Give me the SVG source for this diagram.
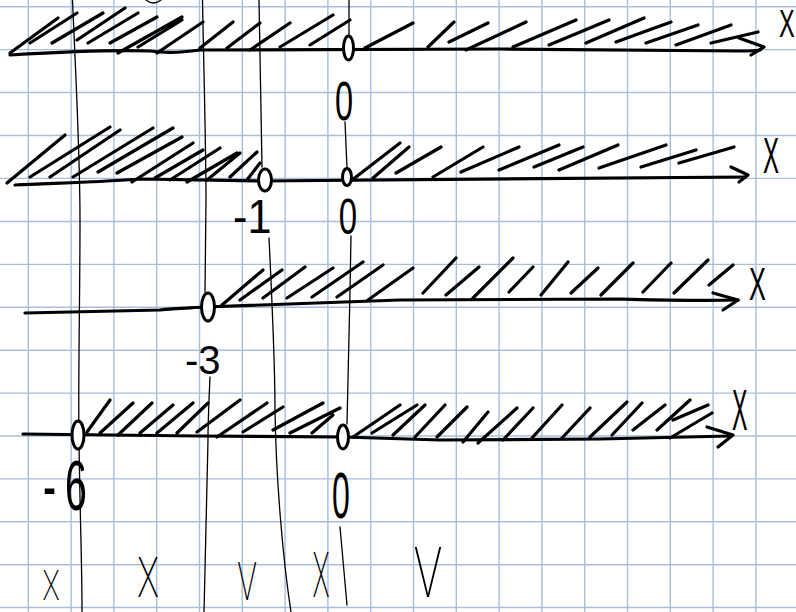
<svg xmlns="http://www.w3.org/2000/svg" width="796" height="612" viewBox="0 0 796 612">
<style>
.grid{stroke:#a9bddd;stroke-width:1.4;fill:none}
.ink{stroke:#000;stroke-width:3.2;fill:none;stroke-linecap:round;stroke-linejoin:round}
.thin{stroke:#000;stroke-width:1.3;fill:none;stroke-linecap:round}
.pt{stroke:#000;stroke-width:3;fill:#fff}
.lbl{font-family:"Liberation Sans",Arial,sans-serif;fill:#000}
.lt{font-family:Roboto,"DejaVu Sans",sans-serif;font-weight:200;fill:#000}
</style>
<rect width="796" height="612" fill="#fff"/>
<g id="grid" class="grid">
<path d="M28.3 0V612M71.1 0V612M113.9 0V612M156.7 0V612M199.5 0V612M242.3 0V612M285.1 0V612M327.9 0V612M370.7 0V612M413.5 0V612M456.3 0V612M499.1 0V612M541.9 0V612M584.7 0V612M627.5 0V612M670.3 0V612M713.1 0V612M755.9 0V612"/>
<path d="M0 6.7H796M0 49.6H796M0 92.5H796M0 135.5H796M0 178.4H796M0 221.5H796M0 264.4H796M0 307.3H796M0 350.2H796M0 393.1H796M0 436H796M0 478.9H796M0 521.8H796M0 564.7H796M0 607.5H796"/>
</g>
<g id="dividers" class="thin">
<path d="M72.5 0C75 60 80 150 80 220C80 300 78 380 79 440C80 520 82 560 82 612"/>
<path d="M202.5 0C204 80 206 150 206 200L205 292"/>
<path d="M210 377C209 400 208 420 208 440C207 500 205 560 204 612"/>
<path d="M259 0C260 60 261 120 262 167"/>
<path d="M269 238C272 300 275 360 275 410C276 480 283 560 291 612"/>
<path d="M349 0L349 36"/>
<path d="M345 122L347 168"/>
<path d="M351 236C350 300 348 380 347 424"/>
<path d="M340 527L347 605"/>
<path d="M146 0Q153.5 6 161 0"/>
</g>
<g id="line1" class="ink">
<path d="M10 55C60 52 120 50 150 51C165 53 175 53 200 50L500 49L740 51Q756 51 760 50"/>
<path d="M739 38L764 47L751 55"/>
<path d="M10 53L58 18M30 43L77 13M52 43L103 13M77 40L125 8M88 43L138 13M110 43L157 17M118 53L182 17M138 47L182 20M157 53L203 22M200 48L233 22M227 48L260 23M250 50L290 23M280 47L333 15M310 45L350 20M365 48L413 23M428 47L454 22M449 42L488 23M466 50L526 22M513 47L576 20M549 45L609 20M586 43L644 18M616 42L671 22M646 43L698 25M676 45L731 25M711 43L758 32"/>
<ellipse class="pt" cx="348.5" cy="48" rx="5" ry="12"/>
</g>
<g id="line2" class="ink">
<path d="M15 185C60 183 120 181 140 179L260 181L745 177"/>
<path d="M731 167L748 175L739 182"/>
<path d="M7 183L65 135M30 177L110 127M50 177L120 130M73 177L153 128M98 172L173 128M117 173L182 137M132 182L193 143M155 178L203 150M170 180L220 148M187 182L237 153M207 180L240 153M230 177L257 152M247 180L260 163"/>
<path d="M352 180L400 143M373 178L409 147M396 173L441 147M433 177L483 147M461 172L519 147M499 170L559 145M534 167L583 147M559 170L618 145M599 168L666 145M641 167L696 150M679 163L734 147"/>
<ellipse class="pt" cx="265" cy="180" rx="6.5" ry="11"/>
<ellipse class="pt" cx="347" cy="177" rx="4.5" ry="8.5"/>
</g>
<g id="line3" class="ink">
<path d="M25 313L160 310C175 308 190 308 205 307L400 300L620 299C660 300 690 301 738 300"/>
<path d="M713 293L738 300L723 310"/>
<path d="M222 305L263 270M240 300L282 270M263 298L305 267M287 298L333 268M312 297L363 262M337 297L383 265M368 300L413 268M423 293L456 258M446 295L479 267M473 298L513 258M509 292L533 267M541 295L568 262M571 293L598 268M601 295L633 263M643 292L671 263M674 293L708 260M709 285L733 265"/>
<ellipse class="pt" cx="208" cy="307" rx="6.5" ry="14"/>
</g>
<g id="line4" class="ink">
<path d="M23 434L200 436L343 437L440 440L600 439L730 436"/>
<path d="M707 427L733 435L718 447"/>
<path d="M87 432L110 400M100 433L133 403M118 435L152 403M140 433L173 405M157 433L193 403M177 433L208 403M197 432L240 400M217 437L267 403M243 432L283 407M273 430L323 403M290 433L340 408M312 433L333 415M353 437L400 405M372 433L417 405M393 435L425 405M415 437L445 405M437 437L467 407M463 442L488 412M478 443L517 408M503 440L533 408M532 438L562 405M562 438L590 408M590 437L627 402M612 435L642 403M633 430L665 405M657 430L690 400M670 438L712 413M673 420L708 405"/>
<ellipse class="pt" cx="78" cy="435" rx="6" ry="14"/>
<ellipse class="pt" cx="343" cy="437" rx="5.5" ry="12"/>
</g>
<g id="labels">
<text class="lbl" font-size="38" transform="translate(779 37) scale(0.62 1)">X</text>
<text class="lbl" font-size="50" transform="translate(763 173) scale(0.48 1)">X</text>
<text class="lbl" font-size="46" transform="translate(749 300) scale(0.55 1)">X</text>
<text class="lbl" font-size="58" transform="translate(732 430) scale(0.4 1)">X</text>
<text class="lbl" font-size="56" text-anchor="middle" transform="translate(344 120) scale(0.58 1)">0</text>
<text class="lbl" font-size="50" text-anchor="middle" transform="translate(348 234) scale(0.66 1)">0</text>
<text class="lbl" font-size="48" transform="translate(233 233) scale(0.9 1)">-1</text>
<text class="lbl" font-size="40" transform="translate(185 374)">-3</text>
<text class="lbl" font-size="70" transform="translate(43 510) scale(0.56 1)">-<tspan dx="16">6</tspan></text>
<text class="lbl" font-size="64" text-anchor="middle" transform="translate(341 518) scale(0.5 1)">0</text>
<text class="lt" font-size="42" text-anchor="middle" transform="translate(51 600) scale(0.68 1)">X</text>
<text class="lt" font-size="56" text-anchor="middle" transform="translate(148 597) scale(0.64 1)">X</text>
<text class="lt" font-size="53" text-anchor="middle" transform="translate(247 600) scale(0.6 1)">V</text>
<text class="lt" font-size="63" text-anchor="middle" transform="translate(321 597) scale(0.45 1)">X</text>
<text class="lt" font-size="70" text-anchor="middle" transform="translate(428 597) scale(0.66 1)">V</text>
</g>
</svg>
